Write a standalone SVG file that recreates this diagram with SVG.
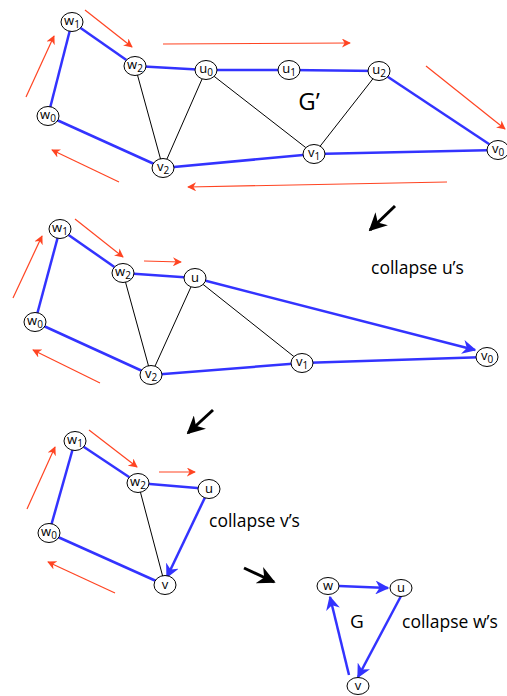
<svg xmlns="http://www.w3.org/2000/svg" width="507" height="696" viewBox="0 0 507 696">
<defs>
<marker id="ra" viewBox="0 0 10 10" refX="9" refY="5" markerWidth="9" markerHeight="9" markerUnits="userSpaceOnUse" orient="auto"><path d="M0,0 L10,5 L0,10 L3,5 z" fill="#ff4422"/></marker>
<marker id="ba" viewBox="0 0 10 10" refX="9" refY="5" markerWidth="14" markerHeight="14" markerUnits="userSpaceOnUse" orient="auto"><path d="M0,0 L10,5 L0,10 L3,5 z" fill="#3333ff"/></marker>
<marker id="ka" viewBox="0 0 10 10" refX="9" refY="5" markerWidth="18" markerHeight="18" markerUnits="userSpaceOnUse" orient="auto"><path d="M0,0 L10,5 L0,10 L3,5 z" fill="#000"/></marker>
</defs>
<style>
.b{stroke:#3333ff;stroke-width:2.5;fill:none}
.k{stroke:#000;stroke-width:1;fill:none}
.r{stroke:#ff4422;stroke-width:1.2;fill:none;marker-end:url(#ra)}
.bk{stroke:#000;stroke-width:3;fill:none;marker-end:url(#ka)}
.n ellipse{fill:#fff;stroke:#000;stroke-width:1}
.n text{font-family:"Open Sans","Liberation Sans",sans-serif;font-size:13px;text-anchor:middle;fill:#000}
.s{font-size:10px}
.t{font-family:"Open Sans","Liberation Sans",sans-serif;fill:#000}
</style>
<rect width="507" height="696" fill="#fff"/>
<g id="connectors">
<line class="b" x1="72" y1="22" x2="135" y2="66"/>
<line class="b" x1="135" y1="66" x2="206" y2="70"/>
<line class="b" x1="206" y1="70" x2="289" y2="70"/>
<line class="b" x1="289" y1="70" x2="379" y2="71"/>
<line class="b" x1="379" y1="71" x2="498" y2="150"/>
<line class="b" x1="498" y1="150" x2="314" y2="154"/>
<line class="b" x1="314" y1="154" x2="163" y2="168"/>
<line class="b" x1="163" y1="168" x2="48" y2="116"/>
<line class="b" x1="48" y1="116" x2="72" y2="22"/>
<line class="k" x1="135" y1="66" x2="163" y2="168"/>
<line class="k" x1="206" y1="70" x2="163" y2="168"/>
<line class="k" x1="206" y1="70" x2="314" y2="154"/>
<line class="k" x1="379" y1="71" x2="314" y2="154"/>
<line class="r" x1="26" y1="97" x2="54" y2="36"/>
<line class="r" x1="85" y1="10" x2="132" y2="47"/>
<line class="r" x1="163" y1="44" x2="350" y2="43"/>
<line class="r" x1="426" y1="66" x2="505" y2="129"/>
<line class="r" x1="447" y1="182" x2="188" y2="187"/>
<line class="r" x1="119" y1="182" x2="52" y2="150"/>
<line class="bk" x1="395" y1="206" x2="370" y2="230"/>
<line class="b" x1="60" y1="229" x2="123" y2="273"/>
<line class="b" x1="123" y1="273" x2="195" y2="278"/>
<line class="b" x1="195" y1="278" x2="475" y2="350" marker-end="url(#ba)"/>
<line class="b" x1="487" y1="357" x2="302" y2="363"/>
<line class="b" x1="302" y1="363" x2="151" y2="375"/>
<line class="b" x1="151" y1="375" x2="35" y2="322"/>
<line class="b" x1="35" y1="322" x2="60" y2="229"/>
<line class="k" x1="123" y1="273" x2="151" y2="375"/>
<line class="k" x1="195" y1="278" x2="151" y2="375"/>
<line class="k" x1="195" y1="278" x2="302" y2="363"/>
<line class="r" x1="13" y1="298" x2="42" y2="236"/>
<line class="r" x1="75" y1="219" x2="123" y2="257"/>
<line class="r" x1="144" y1="261" x2="181" y2="262"/>
<line class="r" x1="100" y1="383" x2="33" y2="350"/>
<line class="bk" x1="213" y1="410" x2="188" y2="433"/>
<line class="b" x1="75" y1="441" x2="138" y2="483"/>
<line class="b" x1="138" y1="483" x2="209" y2="489"/>
<line class="b" x1="209" y1="489" x2="167" y2="577" marker-end="url(#ba)"/>
<line class="b" x1="165" y1="585" x2="49" y2="533"/>
<line class="b" x1="49" y1="533" x2="75" y2="441"/>
<line class="k" x1="138" y1="483" x2="165" y2="585"/>
<line class="r" x1="27" y1="509" x2="55" y2="447"/>
<line class="r" x1="89" y1="430" x2="137" y2="467"/>
<line class="r" x1="159" y1="472" x2="195" y2="472"/>
<line class="r" x1="115" y1="593" x2="48" y2="562"/>
<line class="bk" x1="244" y1="568" x2="274" y2="582"/>
<line class="b" x1="339" y1="586" x2="388" y2="588" marker-end="url(#ba)"/>
<line class="b" x1="401" y1="596" x2="358" y2="677" marker-end="url(#ba)"/>
<line class="b" x1="349" y1="675" x2="330" y2="597" marker-end="url(#ba)"/>
</g>
<g id="t_w1" class="n"><ellipse cx="72" cy="22" rx="11" ry="9.5"/><text x="72" y="25">w<tspan class="s" dy="3">1</tspan></text></g>
<g id="t_w2" class="n"><ellipse cx="135" cy="66" rx="11" ry="9.5"/><text x="135" y="69">w<tspan class="s" dy="3">2</tspan></text></g>
<g id="t_u0" class="n"><ellipse cx="206" cy="70" rx="11" ry="9.5"/><text x="206" y="73">u<tspan class="s" dy="3">0</tspan></text></g>
<g id="t_u1" class="n"><ellipse cx="289" cy="70" rx="11" ry="9.5"/><text x="289" y="73">u<tspan class="s" dy="3">1</tspan></text></g>
<g id="t_u2" class="n"><ellipse cx="379" cy="71" rx="11" ry="9.5"/><text x="379" y="74">u<tspan class="s" dy="3">2</tspan></text></g>
<g id="t_w0" class="n"><ellipse cx="48" cy="116" rx="11" ry="9.5"/><text x="48" y="119">w<tspan class="s" dy="3">0</tspan></text></g>
<g id="t_v2" class="n"><ellipse cx="163" cy="168" rx="11" ry="9.5"/><text x="163" y="171">v<tspan class="s" dy="3">2</tspan></text></g>
<g id="t_v1" class="n"><ellipse cx="314" cy="154" rx="11" ry="9.5"/><text x="314" y="157">v<tspan class="s" dy="3">1</tspan></text></g>
<g id="t_v0" class="n"><ellipse cx="498" cy="150" rx="11" ry="9.5"/><text x="498" y="153">v<tspan class="s" dy="3">0</tspan></text></g>
<text class="t" x="309" y="110" font-size="24" text-anchor="middle">G’</text>
<g id="m_w1" class="n"><ellipse cx="60" cy="229" rx="11" ry="9.5"/><text x="60" y="232">w<tspan class="s" dy="3">1</tspan></text></g>
<g id="m_w2" class="n"><ellipse cx="123" cy="273" rx="11" ry="9.5"/><text x="123" y="276">w<tspan class="s" dy="3">2</tspan></text></g>
<g id="m_u" class="n"><ellipse cx="195" cy="278" rx="11" ry="9.5"/><text x="195" y="282">u</text></g>
<g id="m_w0" class="n"><ellipse cx="35" cy="322" rx="11" ry="9.5"/><text x="35" y="325">w<tspan class="s" dy="3">0</tspan></text></g>
<g id="m_v2" class="n"><ellipse cx="151" cy="375" rx="11" ry="9.5"/><text x="151" y="378">v<tspan class="s" dy="3">2</tspan></text></g>
<g id="m_v1" class="n"><ellipse cx="302" cy="363" rx="11" ry="9.5"/><text x="302" y="366">v<tspan class="s" dy="3">1</tspan></text></g>
<g id="m_v0" class="n"><ellipse cx="487" cy="357" rx="11" ry="9.5"/><text x="487" y="360">v<tspan class="s" dy="3">0</tspan></text></g>
<text class="t" x="371" y="274" font-size="17.5">collapse u’s</text>
<g id="b_w1" class="n"><ellipse cx="75" cy="441" rx="11" ry="9.5"/><text x="75" y="444">w<tspan class="s" dy="3">1</tspan></text></g>
<g id="b_w2" class="n"><ellipse cx="138" cy="483" rx="11" ry="9.5"/><text x="138" y="486">w<tspan class="s" dy="3">2</tspan></text></g>
<g id="b_u" class="n"><ellipse cx="209" cy="489" rx="11" ry="9.5"/><text x="209" y="493">u</text></g>
<g id="b_w0" class="n"><ellipse cx="49" cy="533" rx="11" ry="9.5"/><text x="49" y="536">w<tspan class="s" dy="3">0</tspan></text></g>
<g id="b_v" class="n"><ellipse cx="165" cy="585" rx="11" ry="9.5"/><text x="165" y="589">v</text></g>
<text class="t" x="209" y="527" font-size="17.5">collapse v’s</text>
<g id="g_w" class="n"><ellipse cx="328" cy="586" rx="11" ry="8.5"/><text x="328" y="590">w</text></g>
<g id="g_u" class="n"><ellipse cx="401" cy="588" rx="11" ry="8.5"/><text x="401" y="592">u</text></g>
<g id="g_v" class="n"><ellipse cx="358" cy="686" rx="11" ry="8.5"/><text x="358" y="690">v</text></g>
<text class="t" x="357" y="628" font-size="19" text-anchor="middle">G</text>
<text class="t" x="402" y="628" font-size="17.5">collapse w’s</text>
</svg>
